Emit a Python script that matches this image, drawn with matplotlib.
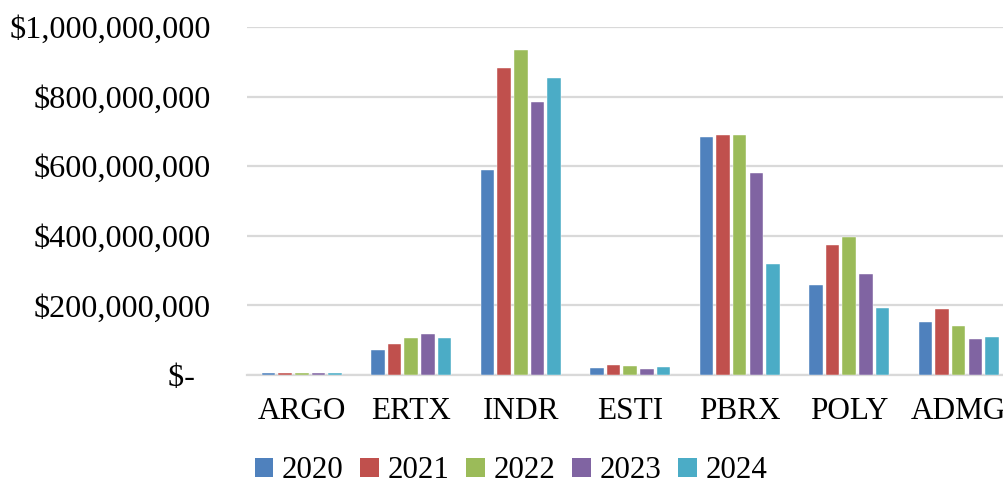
import matplotlib
matplotlib.use("Agg")
import matplotlib.pyplot as plt
import numpy as np
from matplotlib.patches import Patch

companies = ["ARGO", "ERTX", "INDR", "ESTI", "PBRX", "POLY", "ADMG"]
years = ["2020", "2021", "2022", "2023", "2024"]

# values in dollars
v2020 = [5e6, 72e6, 589e6, 21e6, 684e6, 259e6, 151e6]
v2021 = [5e6, 90e6, 883e6, 28e6, 689e6, 374e6, 189e6]
v2022 = [5e6, 107e6, 935e6, 25e6, 689e6, 397e6, 141e6]
v2023 = [7e6, 119e6, 784e6, 18e6, 580e6, 290e6, 103e6]
v2024 = [7e6, 106e6, 854e6, 23e6, 319e6, 193e6, 108e6]
series = [v2020, v2021, v2022, v2023, v2024]

colors = ["#4F81BD", "#C0504D", "#9BBB59", "#8064A2", "#4BACC6"]
ytick_vals = [0, 200e6, 400e6, 600e6, 800e6, 1000e6]
ytick_labels = ["$-  ", "$200,000,000", "$400,000,000", "$600,000,000",
                "$800,000,000", "$1,000,000,000"]

plt.rcParams["font.family"] = ["Liberation Serif", "DejaVu Serif"]

fig = plt.figure(figsize=(10.04, 4.83), dpi=100)
ax = fig.add_axes([0.246, 0.2236, 0.7634, 0.7205])

x = np.arange(len(companies))
pitch = 0.152
for i, vals in enumerate(series):
    ax.bar(x + (i - 2) * pitch, vals, width=0.124, color=colors[i],
           edgecolor="white", linewidth=0.3, zorder=3)

ax.set_xlim(-0.5, 6.5)
ax.set_ylim(0, 1e9)
ax.set_yticks(ytick_vals)
ax.set_yticklabels(ytick_labels)
ax.set_xticks(x)
ax.set_xticklabels(companies)
ax.tick_params(axis="y", length=0, pad=26, labelsize=23.2)
ax.tick_params(axis="x", length=0, pad=16, labelsize=22.5)
ax.grid(axis="y", color="#D9D9D9", linewidth=1.6, zorder=0)
for s in ["top", "right", "left"]:
    ax.spines[s].set_visible(False)
ax.spines["bottom"].set_color("#D9D9D9")
ax.spines["bottom"].set_linewidth(1.6)

handles = [Patch(facecolor=c, edgecolor="none") for c in colors]
fig.legend(handles, years, loc="center", bbox_to_anchor=(511 / 1004, 12 / 483),
           ncol=5, frameon=False, fontsize=22.2, handlelength=0.6,
           handleheight=0.6, handletextpad=0.28, columnspacing=0.55,
           borderpad=0, borderaxespad=0)

fig.savefig("out.png", dpi=100)
